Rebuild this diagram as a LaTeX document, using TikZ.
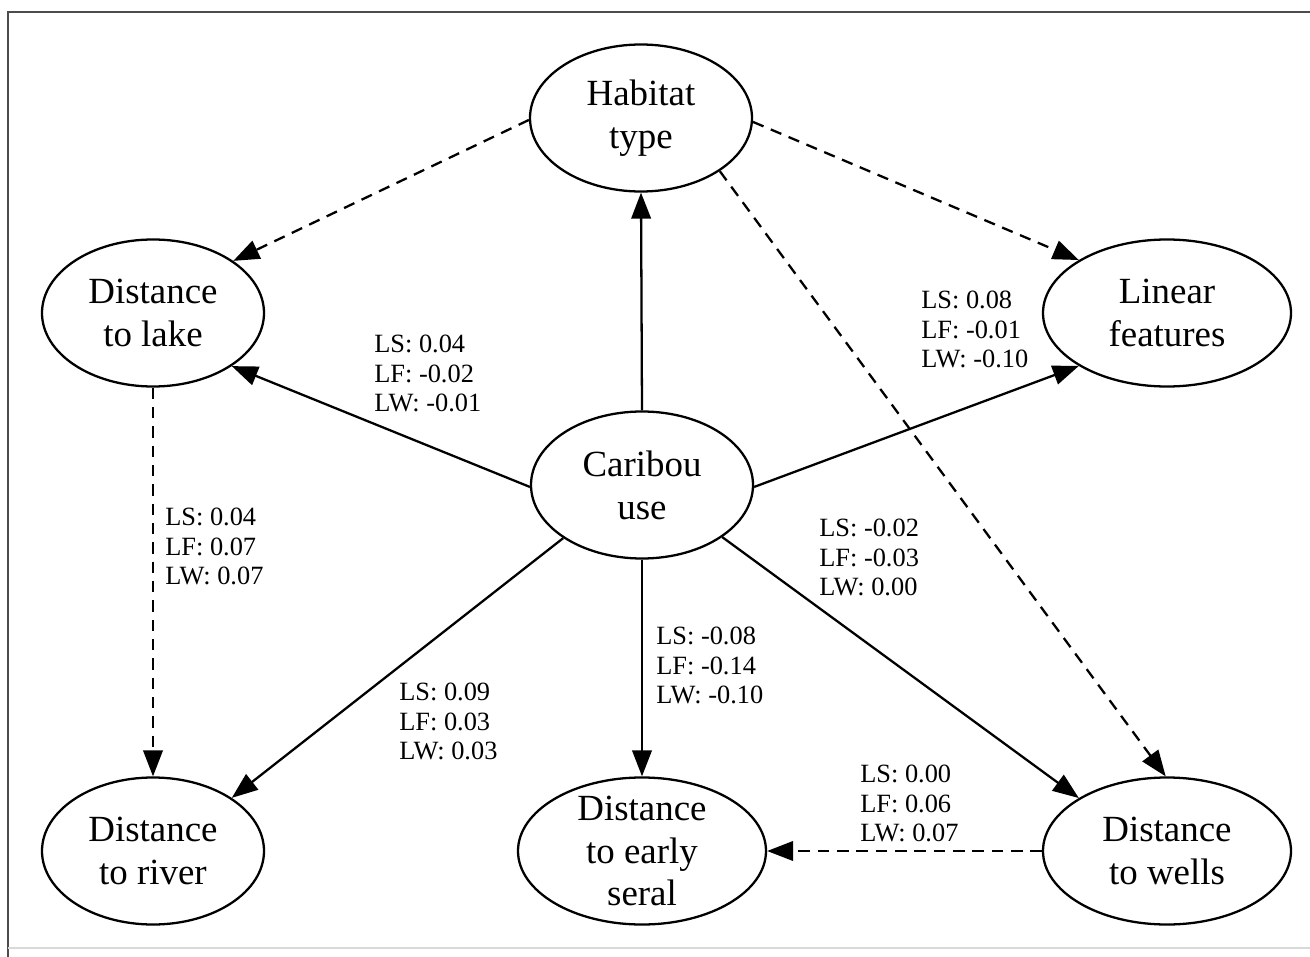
\documentclass[tikz,border=0pt]{standalone}
\usepackage{fontspec}
\setmainfont{Liberation Serif}
\usetikzlibrary{shapes.geometric}
\usetikzlibrary{arrows.meta}

\tikzset{
  factor/.style={ellipse, draw, line width=1.3pt, minimum width=4.44cm, minimum height=2.94cm,
    inner xsep=0pt, inner ysep=-7pt, align=center, font=\fontsize{21}{24.4}\selectfont},
  widefactor/.style={factor, minimum width=4.96cm},
  coef/.style={anchor=west, inner sep=0pt, align=left, font=\fontsize{15}{17}\selectfont},
  arr/.style={line width=1.3pt, -{Triangle[length=5.2mm,width=3.9mm]}},
  darr/.style={arr, dash pattern=on 6.5pt off 4.5pt},
}

\begin{document}
\begin{tikzpicture}
            \useasboundingbox (0,0) rectangle (26.2,-19.14);

            % frame
            \draw[black!70, line width=0.8pt] (0.16,-19.14) -- (0.16,-0.24) -- (26.2,-0.24);
            \draw[black!15, line width=0.8pt] (0.16,-18.96) -- (26.2,-18.96);

            \node[factor] (hab) at (12.82,-2.36) {Habitat\\type};
            \node[factor] (lake) at (3.06,-6.26) {Distance\\to lake};
            \node[widefactor] (lin) at (23.34,-6.26) {Linear\\features};
            \node[factor] (car) at (12.84,-9.70) {Caribou\\use};
            \node[factor] (riv) at (3.06,-17.02) {Distance\\to river};
            \node[widefactor] (ear) at (12.84,-17.02) {Distance\\to early\\seral};
            \node[widefactor] (wel) at (23.34,-17.02) {Distance\\to wells};

            \draw[arr] (car.north) -- (hab.south);
            \draw[arr] (car.181) -- (lake.-34);
            \draw[arr] (car.-1) -- (lin.211);
            \draw[arr] (car.214) -- (riv.34);
            \draw[arr] (car.south) -- (ear.north);
            \draw[arr] (car.-33.5) -- (wel.149);

            \draw[darr] (hab.181) -- (lake.33.5);
            \draw[darr] (hab.-2) -- (lin.149.5);
            \draw[darr] (hab.-34) -- (wel.91.5);
            \draw[darr] (lake.south) -- (riv.north);
            \draw[darr] (wel.west) -- (ear.east);

            \node[coef] (c1) at (7.48,-7.47) {LS: 0.04\\LF: -0.02\\LW: -0.01};
            \node[coef] (c2) at (18.42,-6.59) {LS: 0.08\\LF: -0.01\\LW: -0.10};
            \node[coef] (c3) at (3.30,-10.93) {LS: 0.04\\LF: 0.07\\LW: 0.07};
            \node[coef] (c4) at (16.38,-11.15) {LS: -0.02\\LF: -0.03\\LW: 0.00};
            \node[coef] (c5) at (13.12,-13.31) {LS: -0.08\\LF: -0.14\\LW: -0.10};
            \node[coef] (c6) at (7.98,-14.43) {LS: 0.09\\LF: 0.03\\LW: 0.03};
            \node[coef] (c7) at (17.20,-16.07) {LS: 0.00\\LF: 0.06\\LW: 0.07};
\end{tikzpicture}
\end{document}
